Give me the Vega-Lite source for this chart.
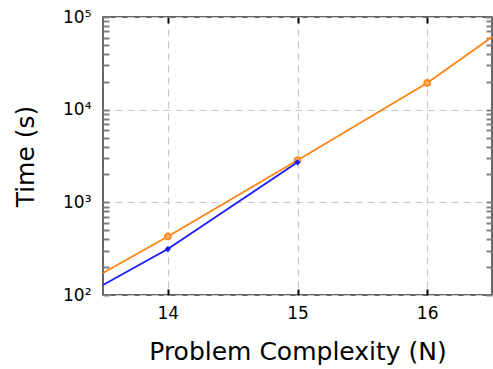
{
  "$schema": "https://vega.github.io/schema/vega-lite/v6.json",
  "width": 389,
  "height": 278,
  "autosize": "none",
  "padding": {"left": 103, "top": 17, "right": 1, "bottom": 74},
  "background": "white",
  "config": {
    "view": {"stroke": "#333333", "strokeWidth": 1.5},
    "font": "DejaVu Sans",
    "axis": {"labelFont": "DejaVu Sans", "titleFont": "DejaVu Sans", "labelColor": "black", "titleColor": "black", "titleFontWeight": "normal"}
  },
  "data": {
    "values": [
      {"series": "A", "N": 13.5, "time": 128, "marker": false},
      {"series": "A", "N": 14, "time": 313, "marker": true},
      {"series": "A", "N": 15, "time": 2700, "marker": true},
      {"series": "B", "N": 13.5, "time": 173, "marker": false},
      {"series": "B", "N": 14, "time": 428, "marker": true},
      {"series": "B", "N": 15, "time": 2840, "marker": true},
      {"series": "B", "N": 16, "time": 19400, "marker": true},
      {"series": "B", "N": 16.5, "time": 60800, "marker": false}
    ]
  },
  "resolve": {"axis": {"x": "independent", "y": "independent"}},
  "layer": [
    {
      "transform": [{"filter": "datum.series == 'B'"}],
      "mark": {"type": "line", "color": "#ff8412", "strokeWidth": 1.8},
      "encoding": {
        "x": {"field": "N", "type": "quantitative", "scale": {"domain": [13.5, 16.5], "nice": false, "zero": false},
          "axis": {"orient": "bottom", "values": [14, 15, 16], "title": "Problem Complexity (N)", "titleFontSize": 25, "titlePadding": 18, "labelFontSize": 17, "labelPadding": 16, "ticks": true, "tickSize": -6, "tickColor": "black", "tickWidth": 2, "domain": false, "grid": true, "gridColor": "#c8c8c8", "gridDash": [7, 5], "gridWidth": 1.2}},
        "y": {"field": "time", "type": "quantitative", "scale": {"type": "log", "domain": [100, 100000], "nice": false},
          "axis": {"orient": "left", "values": [100, 200, 300, 400, 500, 600, 700, 800, 900, 1000, 2000, 3000, 4000, 5000, 6000, 7000, 8000, 9000, 10000, 20000, 30000, 40000, 50000, 60000, 70000, 80000, 90000, 100000], "labelExpr": "datum.value == 100 ? '10²' : datum.value == 1000 ? '10³' : datum.value == 10000 ? '10⁴' : datum.value == 100000 ? '10⁵' : ''", "title": "Time (s)", "titleFontSize": 25, "titlePadding": 24, "labelFontSize": 17, "labelPadding": 18, "ticks": true, "tickSize": -6, "tickColor": "gray", "tickWidth": 2, "domain": false, "grid": false}}
      }
    },
    {
      "transform": [{"filter": "datum.series == 'A'"}],
      "mark": {"type": "line", "color": "#1a1aff", "strokeWidth": 1.8},
      "encoding": {
        "x": {"field": "N", "type": "quantitative", "scale": {"domain": [13.5, 16.5], "nice": false, "zero": false},
          "axis": {"orient": "top", "values": [14, 15, 16], "labelExpr": "''", "title": null, "domain": false, "grid": false, "ticks": true, "tickSize": -6, "tickColor": "black", "tickWidth": 2}},
        "y": {"field": "time", "type": "quantitative", "scale": {"type": "log", "domain": [100, 100000], "nice": false},
          "axis": {"orient": "right", "values": [100, 200, 300, 400, 500, 600, 700, 800, 900, 1000, 2000, 3000, 4000, 5000, 6000, 7000, 8000, 9000, 10000, 20000, 30000, 40000, 50000, 60000, 70000, 80000, 90000, 100000], "labelExpr": "''", "title": null, "domain": false, "grid": false, "ticks": true, "tickSize": -6, "tickColor": "gray", "tickWidth": 2}}
      }
    },
    {
      "transform": [{"filter": "datum.series == 'B' && datum.marker"}],
      "mark": {"type": "point", "shape": "circle", "filled": true, "fill": "#ffb066", "stroke": "#ff8412", "strokeWidth": 1.6, "size": 38, "opacity": 1},
      "encoding": {
        "x": {"field": "N", "type": "quantitative", "scale": {"domain": [13.5, 16.5], "nice": false, "zero": false}, "axis": null},
        "y": {"field": "time", "type": "quantitative", "scale": {"type": "log", "domain": [100, 100000], "nice": false},
          "axis": {"orient": "left", "values": [100, 1000, 10000, 100000], "labels": false, "ticks": false, "domain": false, "title": null, "grid": true, "gridColor": "#c8c8c8", "gridDash": [7, 5], "gridWidth": 1.2}}
      }
    },
    {
      "transform": [{"filter": "datum.series == 'A' && datum.marker"}],
      "mark": {"type": "point", "shape": "diamond", "filled": true, "color": "#1a1aff", "size": 40, "opacity": 1},
      "encoding": {
        "x": {"field": "N", "type": "quantitative", "scale": {"domain": [13.5, 16.5], "nice": false, "zero": false}, "axis": null},
        "y": {"field": "time", "type": "quantitative", "scale": {"type": "log", "domain": [100, 100000], "nice": false}, "axis": null}
      }
    }
  ]
}
